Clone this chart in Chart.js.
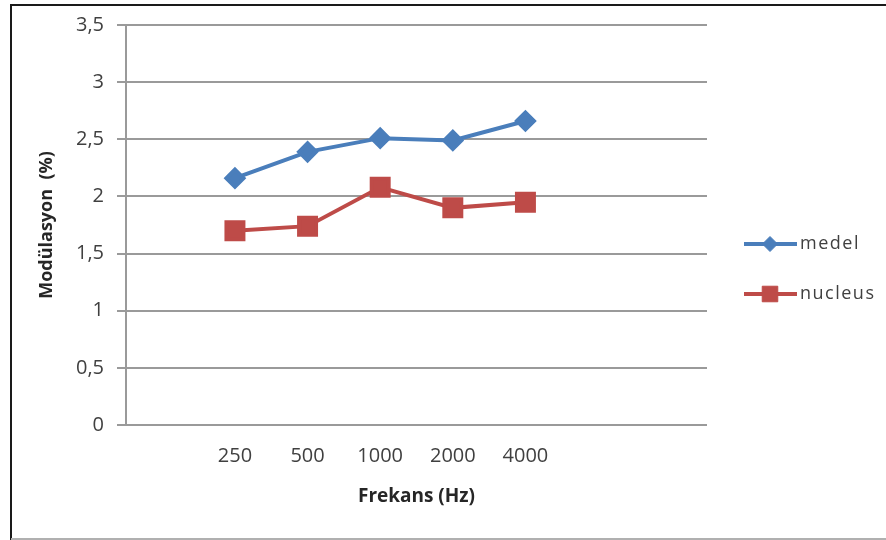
<!DOCTYPE html>
<html>
<head>
<meta charset="utf-8">
<script src="https://cdn.jsdelivr.net/npm/chart.js@4/dist/chart.umd.min.js"></script>
<style>
  html, body { margin: 0; padding: 0; background: #ffffff; }
  #wrap { width: 886px; height: 540px; position: relative; }
</style>
</head>
<body>
<div id="wrap"><canvas id="c" width="886" height="540"></canvas></div>
<script>
// ---- data ----
const frequencies = ['250', '500', '1000', '2000', '4000'];
const medel   = [2.16, 2.39, 2.51, 2.49, 2.66];
const nucleus = [1.70, 1.74, 2.08, 1.90, 1.95];
const yTicks  = [0, 0.5, 1, 1.5, 2, 2.5, 3, 3.5];
const seriesNames = ['medel', 'nucleus'];
const xTitle = 'Frekans (Hz)';
const yTitle = 'Modülasyon  (%)';

// category layout: one empty slot before, two after (as in the original Excel axis)
const labels = [''].concat(frequencies, ['', '']);
const pad = arr => [null].concat(arr, [null, null]);

const FONT = "'Open Sans', 'DejaVu Sans', sans-serif";
const BLUE = '#4A7EBB';
const RED = '#BE4B48';

const framePlugin = {
  id: 'frame',
  beforeDraw(chart) {
    const ctx = chart.ctx;
    ctx.save();
    ctx.fillStyle = '#ffffff';
    ctx.fillRect(0, 0, chart.width, chart.height);
    ctx.strokeStyle = '#1a1a1a';
    ctx.lineWidth = 2;
    ctx.beginPath();
    ctx.moveTo(11, 540); ctx.lineTo(11, 5); ctx.lineTo(886, 5);
    ctx.stroke();
    ctx.strokeStyle = '#b0b0b0';
    ctx.lineWidth = 2;
    ctx.beginPath();
    ctx.moveTo(11, 539); ctx.lineTo(886, 539);
    ctx.stroke();
    ctx.restore();
  }
};

const legendPlugin = {
  id: 'customLegend',
  afterDraw(chart) {
    const ctx = chart.ctx;
    const ys = [244, 294];
    ctx.save();
    chart.data.datasets.forEach((ds, i) => {
      const y = ys[i];
      ctx.strokeStyle = ds.borderColor;
      ctx.lineWidth = 4;
      ctx.beginPath();
      ctx.moveTo(744, y); ctx.lineTo(797, y);
      ctx.stroke();
      ctx.fillStyle = ds.pointBackgroundColor;
      ctx.strokeStyle = ds.pointBorderColor;
      ctx.lineWidth = 1;
      Chart.helpers.drawPoint(ctx, { pointStyle: ds.pointStyle, radius: ds.pointRadius - 1, borderWidth: 1 }, 770, y);
      ctx.fillStyle = '#404040';
      ctx.font = "18px " + FONT;
      ctx.textBaseline = 'middle';
      ctx.textAlign = 'left';
      try { ctx.letterSpacing = '1.5px'; } catch (e) {}
      ctx.fillText(ds.label, 800, y);
    });
    ctx.restore();
  }
};

new Chart(document.getElementById('c'), {
  type: 'line',
  data: {
    labels: labels,
    datasets: [
      {
        label: seriesNames[0],
        data: pad(medel),
        borderColor: BLUE,
        backgroundColor: BLUE,
        pointBackgroundColor: BLUE,
        pointBorderColor: BLUE,
        borderWidth: 4,
        pointStyle: 'rectRot',
        pointRadius: 8.5,
        pointHoverRadius: 8.5,
        tension: 0
      },
      {
        label: seriesNames[1],
        data: pad(nucleus),
        borderColor: RED,
        backgroundColor: RED,
        pointBackgroundColor: RED,
        pointBorderColor: RED,
        borderWidth: 4,
        pointStyle: 'rect',
        pointRadius: 12,
        pointHoverRadius: 12,
        tension: 0
      }
    ]
  },
  options: {
    responsive: false,
    animation: false,
    devicePixelRatio: 1,
    spanGaps: false,
    layout: { padding: { left: 0, right: 179, top: 24, bottom: 0 } },
    plugins: {
      legend: { display: false },
      tooltip: { enabled: false }
    },
    scales: {
      x: {
        type: 'category',
        offset: true,
        grid: { display: false, drawTicks: false },
        border: { display: false },
        ticks: {
          color: '#404040',
          font: { family: FONT, size: 20 },
          padding: 19,
          maxRotation: 0,
          autoSkip: false
        },
        title: {
          display: true,
          text: xTitle,
          color: '#262626',
          font: { family: FONT, size: 19, weight: 'bold' },
          padding: { top: 0, bottom: 32 }
        },
        afterFit(scale) { scale.height = 115; }
      },
      y: {
        min: 0,
        max: 3.5,
        afterBuildTicks(scale) { scale.ticks = yTicks.map(v => ({ value: v })); },
        grid: {
          color: '#9a9a9a',
          lineWidth: 2,
          tickLength: 9,
          drawTicks: true
        },
        border: { display: true, color: '#9a9a9a', width: 2 },
        ticks: {
          color: '#404040',
          font: { family: FONT, size: 20 },
          padding: 13,
          callback: v => String(v).replace('.', ',')
        },
        title: {
          display: true,
          text: yTitle,
          color: '#262626',
          font: { family: FONT, size: 18, weight: 'bold' },
          padding: { top: 36, bottom: 0 }
        },
        afterFit(scale) { scale.width = 126; }
      }
    }
  },
  plugins: [framePlugin, legendPlugin]
});
</script>
</body>
</html>
